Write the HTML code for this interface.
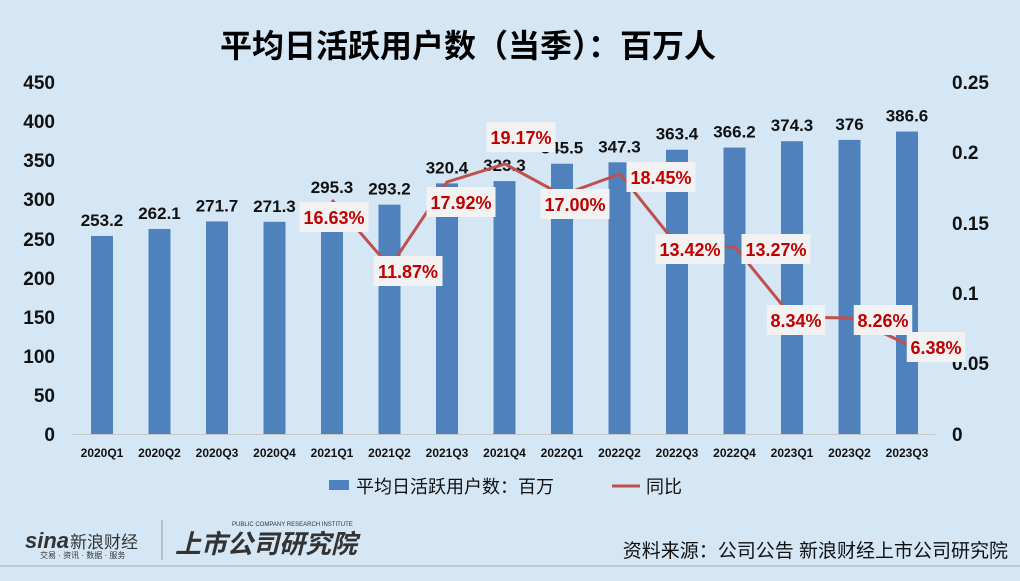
<!DOCTYPE html>
<html><head><meta charset="utf-8"><style>
body{margin:0;width:1020px;height:581px;background:#d5e7f5;overflow:hidden}
svg{display:block}
text{font-family:"Liberation Sans","Noto Sans CJK SC",sans-serif}
</style></head><body>
<svg width="1020" height="581" viewBox="0 0 1020 581">
<rect width="1020" height="581" fill="#d5e7f5"/>
<text x="468" y="57" font-size="32" font-weight="bold" text-anchor="middle" fill="#000">平均日活跃用户数（当季）：百万人</text>
<g font-size="19" font-weight="bold" fill="#111" text-anchor="end">
<text x="55" y="441">0</text><text x="55" y="402">50</text><text x="55" y="363">100</text><text x="55" y="324">150</text><text x="55" y="285">200</text><text x="55" y="246">250</text><text x="55" y="206">300</text><text x="55" y="167">350</text><text x="55" y="128">400</text><text x="55" y="89">450</text>
</g>
<g font-size="19" font-weight="bold" fill="#111" text-anchor="start">
<text x="952" y="441">0</text><text x="952" y="370">0.05</text><text x="952" y="300">0.1</text><text x="952" y="230">0.15</text><text x="952" y="159">0.2</text><text x="952" y="89">0.25</text>
</g>
<line x1="72" y1="434.5" x2="935" y2="434.5" stroke="#c8c8c8"/>
<g fill="#4f81bd" id="bars"></g>
<g font-size="17" font-weight="bold" fill="#111" text-anchor="middle" id="bl"></g>
<g font-size="12" font-weight="bold" fill="#111" text-anchor="middle" id="xl"></g>
<polyline fill="none" stroke="#c0504d" stroke-width="3" points="332,200 390,267 447,182 505,164 562,195 620,174 677,245 735,247 792,317 850,318 907,344"/>
<g id="ll" font-size="18" font-weight="bold" fill="#c00000" text-anchor="middle"></g>
<rect x="329" y="480" width="20" height="10" fill="#4f81bd"/>
<text x="356" y="493" font-size="18" fill="#111">平均日活跃用户数：百万</text>
<line x1="612" y1="486" x2="640" y2="486" stroke="#c0504d" stroke-width="3"/>
<text x="646" y="493" font-size="18" fill="#111">同比</text>
<text x="25" y="548" font-size="22" font-weight="bold" font-style="italic" fill="#333">sina</text>
<text x="70" y="548" font-size="17" fill="#333">新浪财经</text>
<text x="40" y="558" font-size="8" fill="#333">交易 · 资讯 · 数据 · 服务</text>
<line x1="162" y1="520" x2="162" y2="560" stroke="#999"/>
<text x="175" y="553" font-size="26" font-weight="bold" font-style="italic" fill="#333">上市公司研究院</text>
<text x="232" y="526" font-size="6" fill="#333">PUBLIC COMPANY RESEARCH INSTITUTE</text>
<text x="1008" y="557" font-size="19" fill="#111" text-anchor="end">资料来源：公司公告 新浪财经上市公司研究院</text>
<line x1="0" y1="566" x2="1020" y2="566" stroke="#aaa"/>
</svg>
<script>
var v=[253.2,262.1,271.7,271.3,295.3,293.2,320.4,323.3,345.5,347.3,363.4,366.2,374.3,376,386.6];
var q=["2020Q1","2020Q2","2020Q3","2020Q4","2021Q1","2021Q2","2021Q3","2021Q4","2022Q1","2022Q2","2022Q3","2022Q4","2023Q1","2023Q2","2023Q3"];
var ns="http://www.w3.org/2000/svg";
function el(p,t,a,tx){var e=document.createElementNS(ns,t);for(var k in a)e.setAttribute(k,a[k]);if(tx)e.textContent=tx;document.getElementById(p).appendChild(e);}
for(var i=0;i<15;i++){var x=102+i*57.5,h=v[i]*352/450,t=434-h;
el("bars","rect",{x:x-11,y:t,width:22,height:h});
el("bl","text",{x:x,y:t-10},String(v[i]));
el("xl","text",{x:x,y:457},q[i]);}
var L=[["16.63%",334,217],["11.87%",408,271],["17.92%",461,202],["19.17%",521,137],["17.00%",575,204],["18.45%",661,177],["13.42%",690,249],["13.27%",776,249],["8.34%",796,320],["8.26%",883,320],["6.38%",936,347]];
L.forEach(function(l){var w=l[0].length*10.5+6;el("ll","rect",{x:l[1]-w/2,y:l[2]-15,width:w,height:30,fill:"#f2f2f2"});el("ll","text",{x:l[1],y:l[2]+7},l[0]);});
</script>
</body></html>
